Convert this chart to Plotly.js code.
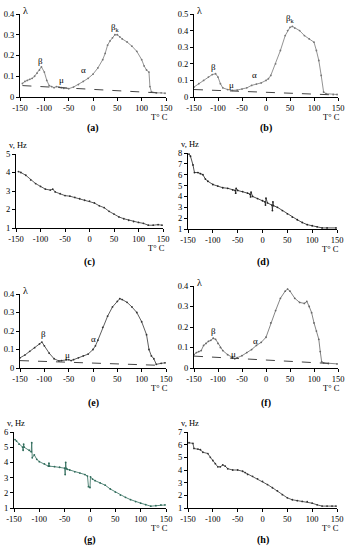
<!DOCTYPE html>
<html><head><meta charset="utf-8">
<script src="https://cdn.plot.ly/plotly-3.0.1.min.js"></script>
<style>html,body{margin:0;padding:0;background:#fff}#chart{width:349px;height:550px}</style>
</head><body><div id="chart"></div>
<script>
// ---- data ----
const tickT = [-150, -100, -50, 0, 50, 100, 150];
const tickTText = ["-150", "-100", "-50", "0", "50", "100", "150"];

const aT = [-145,-140,-135,-130,-125,-120,-115,-110,-106,-100,-95,-90,-85,-80,-75,-70,-65,-60,-50,-40,-30,-20,-10,0,10,20,25,30,35,40,45,50,55,60,70,80,90,100,105,110,115,117,120,130,140,148];
const aL = [0.065,0.075,0.08,0.085,0.09,0.1,0.115,0.13,0.145,0.12,0.08,0.055,0.05,0.045,0.05,0.048,0.045,0.042,0.04,0.048,0.06,0.075,0.09,0.11,0.14,0.18,0.21,0.25,0.27,0.285,0.3,0.3,0.29,0.28,0.265,0.245,0.22,0.18,0.15,0.13,0.12,0.05,0.025,0.02,0.02,0.018];
const aBaseT = [-145, 148];
const aBaseL = [0.055, 0.018];

const bT = [-150,-140,-130,-120,-112,-105,-100,-95,-90,-80,-70,-60,-50,-40,-30,-20,-10,0,5,10,20,30,40,45,50,55,60,70,80,90,100,105,110,115,120,125,140,148];
const bL = [0.06,0.08,0.1,0.12,0.135,0.14,0.12,0.08,0.055,0.045,0.04,0.042,0.048,0.055,0.07,0.078,0.085,0.1,0.11,0.13,0.2,0.28,0.37,0.4,0.42,0.425,0.415,0.4,0.37,0.35,0.33,0.28,0.22,0.13,0.03,0.02,0.015,0.015];
const bBaseT = [-150, 148];
const bBaseL = [0.045, 0.012];

const cT = [-145,-140,-130,-120,-110,-100,-90,-80,-75,-70,-60,-50,-40,-30,-20,-10,0,10,20,30,40,50,60,70,80,90,100,110,120,130,140,148];
const cV = [4.05,4.0,3.85,3.6,3.4,3.25,3.1,3.05,3.1,2.95,2.85,2.75,2.72,2.65,2.58,2.5,2.45,2.35,2.2,2.1,1.9,1.75,1.6,1.5,1.42,1.35,1.3,1.25,1.15,1.15,1.18,1.15];

const dT = [-148,-145,-140,-137,-130,-125,-120,-115,-110,-100,-90,-80,-70,-60,-55,-54,-53,-50,-40,-30,-25,-24,-23,-20,-10,0,5,6,7,10,19,20,21,22,30,40,50,60,70,80,90,100,110,120,130,148];
const dV = [7.9,7.7,6.9,6.2,6.2,6.1,6.0,5.6,5.4,5.1,4.95,4.8,4.75,4.6,4.55,4.3,4.75,4.55,4.45,4.3,4.2,3.95,4.4,4.0,3.8,3.6,3.5,3.2,3.85,3.4,3.2,2.7,3.5,3.15,3.0,2.7,2.4,2.1,1.85,1.6,1.4,1.3,1.2,1.1,1.1,1.1];

const eT = [-150,-140,-130,-120,-110,-105,-100,-90,-80,-70,-65,-55,-50,-45,-40,-30,-20,-10,0,5,10,20,30,40,50,55,60,70,80,90,100,110,115,120,125,130,140,148];
const eL = [0.055,0.07,0.09,0.11,0.13,0.14,0.12,0.08,0.05,0.038,0.04,0.045,0.045,0.04,0.045,0.055,0.065,0.075,0.1,0.12,0.15,0.22,0.28,0.33,0.36,0.375,0.37,0.355,0.33,0.3,0.25,0.18,0.1,0.065,0.05,0.02,0.025,0.028];
const eBaseT = [-150, 130];
const eBaseL = [0.04, 0.015];

const fT = [-150,-145,-140,-135,-130,-125,-120,-115,-110,-105,-100,-95,-90,-80,-70,-65,-60,-50,-40,-30,-20,-10,0,10,20,30,40,45,50,60,70,80,85,90,95,100,105,110,113,116,120,130,148];
const fL = [0.065,0.075,0.08,0.085,0.11,0.12,0.13,0.135,0.145,0.14,0.12,0.1,0.085,0.065,0.05,0.045,0.05,0.06,0.075,0.09,0.11,0.125,0.15,0.22,0.28,0.34,0.375,0.385,0.375,0.34,0.32,0.315,0.325,0.3,0.27,0.22,0.18,0.14,0.08,0.03,0.025,0.022,0.02];
const fBaseT = [-150, 148];
const fBaseL = [0.058, 0.02];

const gT = [-148,-145,-140,-133,-132,-131,-130,-120,-116,-115,-114,-110,-105,-100,-90,-82,-81,-80,-70,-60,-50,-49,-48,-47,-45,-40,-30,-20,-10,-5,-3,0,1,5,10,20,30,40,50,60,70,80,90,100,110,120,130,140,148];
const gV = [5.5,5.4,5.2,5.0,4.8,5.2,5.0,4.8,4.7,5.3,4.3,4.5,4.2,4.05,3.9,3.75,3.95,3.75,3.72,3.68,3.62,3.2,4.0,3.6,3.55,3.5,3.38,3.3,3.2,3.1,2.4,2.35,3.05,2.9,2.8,2.65,2.5,2.25,2.05,1.85,1.7,1.55,1.42,1.32,1.22,1.12,1.15,1.2,1.2];

const hT = [-148,-140,-138,-130,-125,-120,-110,-105,-100,-95,-90,-85,-80,-75,-70,-60,-50,-40,-35,-30,-20,-10,0,10,20,30,40,50,60,70,80,90,100,110,120,130,140,148];
const hV = [6.15,6.1,5.7,5.65,5.6,5.4,5.3,5.0,4.75,4.5,4.25,4.25,4.4,4.3,4.1,4.0,4.0,3.9,3.8,3.65,3.5,3.3,3.1,2.85,2.6,2.35,2.05,1.8,1.65,1.58,1.52,1.5,1.38,1.25,1.15,1.15,1.15,1.15];

const panelLabels = ["(a)","(b)","(c)","(d)","(e)","(f)","(g)","(h)"];

// ---- layout geometry (pixels) ----
const W = 349, H = 550;
const px = x => x / W, py = y => 1 - y / H;
const FONT = "Liberation Serif";
const BLACK = "#000";

const panels = [
  {id:"a", xd:[20,166], yd:[14,97],  yr:[0,0.4], dt:0.1, ylab:"λ", capY:128},
  {id:"b", xd:[194,338],yd:[14,97],  yr:[0,0.5], dt:0.1, ylab:"λ", capY:128},
  {id:"c", xd:[16,163], yd:[154,228],yr:[1,5],   dt:1,   ylab:"v, Hz", capY:262},
  {id:"d", xd:[188,337],yd:[153,229],yr:[1,8],   dt:1,   ylab:"v, Hz", capY:262},
  {id:"e", xd:[20,166], yd:[294,368],yr:[0,0.4], dt:0.1, ylab:"λ", capY:403},
  {id:"f", xd:[194,338],yd:[286,368],yr:[0,0.4], dt:0.1, ylab:"λ", capY:403},
  {id:"g", xd:[14,166], yd:[432,508],yr:[1,6],   dt:1,   ylab:"v, Hz", capY:540},
  {id:"h", xd:[188,337],yd:[432,508],yr:[1,7],   dt:1,   ylab:"v, Hz", capY:540}
];

const layout = {
  width: W, height: H,
  margin: {l:0, r:0, t:0, b:0},
  paper_bgcolor: "#fff", plot_bgcolor: "#fff",
  showlegend: false,
  font: {family: FONT, size: 8, color: BLACK},
  annotations: []
};

panels.forEach((p, i) => {
  const n = i === 0 ? "" : String(i + 1);
  layout["xaxis" + n] = {
    domain: [px(p.xd[0]), px(p.xd[1])], anchor: "y" + n,
    range: [-150, 150], tickvals: tickT, ticktext: tickTText,
    showline: true, linecolor: BLACK, linewidth: 1, ticks: "outside", ticklen: 3, tickcolor: BLACK,
    showgrid: false, zeroline: false, tickfont: {family: FONT, size: 8.5, color: BLACK}, fixedrange: true
  };
  layout["yaxis" + n] = {
    domain: [py(p.yd[1]), py(p.yd[0])], anchor: "x" + n,
    range: p.yr, dtick: p.dt, tick0: 0,
    showline: true, linecolor: BLACK, linewidth: 1, ticks: "outside", ticklen: 3, tickcolor: BLACK,
    showgrid: false, zeroline: false, tickfont: {family: FONT, size: 8.5, color: BLACK}, fixedrange: true
  };
  const isLam = p.ylab === "λ";
  layout.annotations.push(
    {xref:"paper", yref:"paper", x: isLam ? px(p.xd[0] + 1) : px(p.xd[0] - 9),
     y: isLam ? py(p.yd[0] - 4) : py(p.yd[0] - 9), text:p.ylab, showarrow:false,
     xanchor:"left", yanchor:"middle", font:{family:FONT, size: isLam ? 10 : 8.5, color:BLACK}},
    {xref:"paper", yref:"paper", x:px(p.xd[1] + 4), y:py(p.yd[1] + 20), text:"T° C", showarrow:false,
     xanchor:"right", yanchor:"middle", font:{family:FONT, size:8.5, color:BLACK}},
    {xref:"paper", yref:"paper", x:px((p.xd[0] + p.xd[1]) / 2), y:py(p.capY), text:"<b>" + panelLabels[i] + "</b>", showarrow:false,
     xanchor:"center", yanchor:"middle", font:{family:FONT, size:10, color:BLACK}}
  );
});

// peak labels
function peaks(n, items) {
  items.forEach(([t, x, y]) => layout.annotations.push({xref:"x" + n, yref:"y" + n, x:x, y:y, text:t,
    showarrow:false, font:{family:FONT, size:9, color:BLACK}}));
}
const BK = "β<sub>k</sub>";
peaks("",  [["β",-107,0.175],["μ",-65,0.08],["α",-20,0.13],[BK,46,0.335]]);
peaks("2", [["β",-110,0.18],["μ",-72,0.07],["α",-25,0.13],[BK,52,0.47]]);
peaks("5", [["β",-102,0.185],["μ",-52,0.07],["α",2,0.155],[BK,58,0.43]]);
peaks("6", [["β",-110,0.18],["μ",-68,0.07],["α",-22,0.13],[BK,48,0.435]]);

const lineTrace = (x, y, n, color) => ({x, y, xaxis:"x" + n, yaxis:"y" + n, type:"scatter", mode:"lines+markers",
  line:{color, width:0.8}, marker:{size:1.8, color}, hoverinfo:"skip"});
const dashTrace = (x, y, n) => ({x, y, xaxis:"x" + n, yaxis:"y" + n, type:"scatter", mode:"lines",
  line:{color:"#444", width:1, dash:"dash"}, hoverinfo:"skip"});

const data = [
  lineTrace(aT, aL, "", "#777"), dashTrace(aBaseT, aBaseL, ""),
  lineTrace(bT, bL, "2", "#777"), dashTrace(bBaseT, bBaseL, "2"),
  lineTrace(cT, cV, "3", "#333"),
  lineTrace(dT, dV, "4", "#222"),
  lineTrace(eT, eL, "5", "#333"), dashTrace(eBaseT, eBaseL, "5"),
  lineTrace(fT, fL, "6", "#666"), dashTrace(fBaseT, fBaseL, "6"),
  lineTrace(gT, gV, "7", "#2f6b5a"),
  lineTrace(hT, hV, "8", "#333")
];

Plotly.newPlot("chart", data, layout, {staticPlot:true, displayModeBar:false});
</script></body></html>
